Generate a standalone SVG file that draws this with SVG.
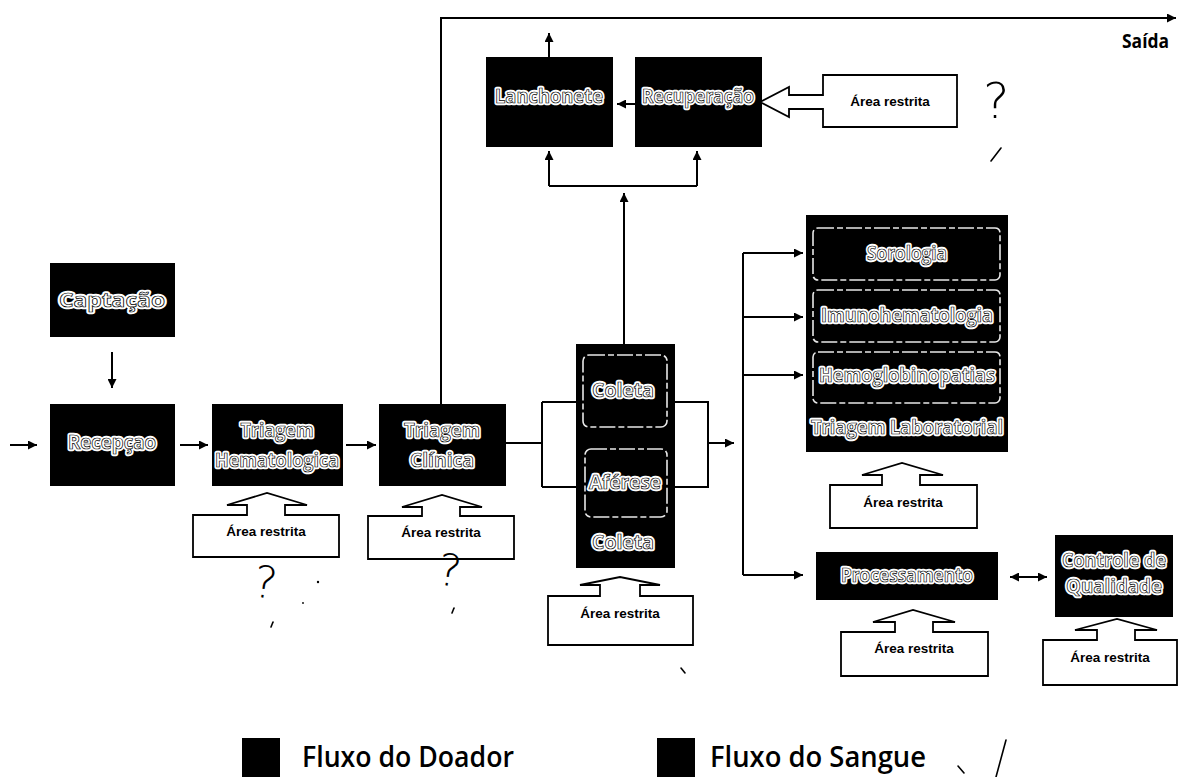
<svg xmlns="http://www.w3.org/2000/svg" width="1181" height="777" viewBox="0 0 1181 777">
  <defs>
    <marker id="ah" viewBox="0 0 10 10" refX="10" refY="5" markerUnits="userSpaceOnUse" markerWidth="9" markerHeight="9" orient="auto-start-reverse">
      <path d="M0,0 L10,5 L0,10 z" fill="#000"/>
    </marker>
  </defs>
  <style>
    .blk { fill: #000; }
    .sub { fill: none; stroke: #e8e8e8; stroke-width: 1.6; stroke-dasharray: 16 3 6 3; }
    .halo { font-family: "Open Sans", "Liberation Sans", sans-serif; font-weight: 700; font-size: 19px; fill: #fff; stroke: #fff; stroke-width: 4.5; stroke-linejoin: round; text-anchor: middle; dominant-baseline: central; }
    .ink { font-family: "Open Sans", "Liberation Sans", sans-serif; font-weight: 700; font-size: 19px; fill: #fff; stroke: #000; stroke-width: 0.7; text-anchor: middle; dominant-baseline: central; }
    .ar { fill: #fff; stroke: #000; stroke-width: 1.8; stroke-linejoin: miter; }
    .art { font-family: "Liberation Sans", Arial, sans-serif; font-weight: 700; font-size: 13.5px; fill: #000; text-anchor: middle; dominant-baseline: central; }
    .wire { fill: none; stroke: #000; stroke-width: 2; }
    .arr { fill: none; stroke: #000; stroke-width: 2; marker-end: url(#ah); }
    .hand { font-family: "DejaVu Sans", sans-serif; font-weight: 200; fill: #000; }
    .mark { fill: none; stroke: #000; stroke-width: 1.6; stroke-linecap: round; }
    .leg { font-family: "Open Sans", "Noto Sans", sans-serif; font-weight: 600; font-size: 28px; fill: #000; }
  </style>
  <rect width="1181" height="777" fill="#fff"/>

  <!-- connectors -->
  <g id="connectors">
    <!-- exit path -->
    <path class="arr" d="M441 404 V18 H1176"/>
    <path class="arr" d="M549 57 V33"/>
    <path class="arr" d="M635 104 H617"/>
    <path class="wire" d="M549 186 H697"/>
    <path class="arr" d="M549 186 V151"/>
    <path class="arr" d="M697 186 V151"/>
    <path class="arr" d="M624 344 V193"/>
    <!-- donor chain -->
    <path class="arr" d="M112 352 V388"/>
    <path class="arr" d="M10 445 H37"/>
    <path class="arr" d="M180 445 H208"/>
    <path class="arr" d="M346 445 H376"/>
    <!-- collection split / merge -->
    <path class="wire" d="M506 443 H542 M542 402 V487 M542 402 H576 M542 487 H576"/>
    <path class="wire" d="M675 402 H708 V487 H675"/>
    <path class="arr" d="M708 443 H734"/>
    <!-- laboratory distribution -->
    <path class="wire" d="M743 253 V575"/>
    <path class="arr" d="M743 253 H803"/>
    <path class="arr" d="M743 317 H803"/>
    <path class="arr" d="M743 375 H803"/>
    <path class="arr" d="M743 575 H803"/>
    <path class="arr" d="M1010 577 H1047" marker-start="url(#ah)"/>
  </g>

  <text x="1122" y="48" font-family="'Open Sans', 'Liberation Sans', sans-serif" font-weight="700" font-size="20" textLength="47" lengthAdjust="spacingAndGlyphs">Saída</text>

  <g id="lanchonete">
    <rect class="blk" x="486" y="57" width="127" height="90"/>
    <text class="halo" x="549" y="96" textLength="108" lengthAdjust="spacingAndGlyphs">Lanchonete</text>
    <text class="ink" x="549" y="96" textLength="108" lengthAdjust="spacingAndGlyphs">Lanchonete</text>
  </g>
  <g id="recuperacao">
    <rect class="blk" x="635" y="57" width="127" height="90"/>
    <text class="halo" x="698" y="96" textLength="112" lengthAdjust="spacingAndGlyphs">Recuperação</text>
    <text class="ink" x="698" y="96" textLength="112" lengthAdjust="spacingAndGlyphs">Recuperação</text>
  </g>
  <g id="restrita-recuperacao">
    <path class="ar" d="M823 75 H957 V127 H823 V109 H789 V117 L760 102 L789 87 V95 H823 Z"/>
    <text class="art" x="890" y="101">Área restrita</text>
  </g>

  <g id="captacao">
    <rect class="blk" x="50" y="263" width="125" height="74"/>
    <text class="halo" x="112" y="300" textLength="106" lengthAdjust="spacingAndGlyphs">Captação</text>
    <text class="ink" x="112" y="300" textLength="106" lengthAdjust="spacingAndGlyphs">Captação</text>
  </g>
  <g id="recepcao">
    <rect class="blk" x="50" y="404" width="125" height="82"/>
    <text class="halo" x="112" y="442" textLength="88" lengthAdjust="spacingAndGlyphs">Recepçao</text>
    <text class="ink" x="112" y="442" textLength="88" lengthAdjust="spacingAndGlyphs">Recepçao</text>
  </g>
  <g id="triagem-hematologica">
    <rect class="blk" x="212" y="404" width="131" height="82"/>
    <text class="halo" x="277" y="430" textLength="73" lengthAdjust="spacingAndGlyphs">Triagem</text>
    <text class="ink" x="277" y="430" textLength="73" lengthAdjust="spacingAndGlyphs">Triagem</text>
    <text class="halo" x="277" y="460" textLength="124" lengthAdjust="spacingAndGlyphs">Hematologica</text>
    <text class="ink" x="277" y="460" textLength="124" lengthAdjust="spacingAndGlyphs">Hematologica</text>
  </g>
  <g id="restrita-hematologica">
    <path class="ar" d="M193 515 H247 V505 H227 L267 493 L307 505 H285 V515 H339 V557 H193 Z"/>
    <text class="art" x="266" y="531">Área restrita</text>
  </g>
  <g id="triagem-clinica">
    <rect class="blk" x="379" y="404" width="127" height="82"/>
    <text class="halo" x="442" y="430" textLength="76" lengthAdjust="spacingAndGlyphs">Triagem</text>
    <text class="ink" x="442" y="430" textLength="76" lengthAdjust="spacingAndGlyphs">Triagem</text>
    <text class="halo" x="442" y="460" textLength="64" lengthAdjust="spacingAndGlyphs">Clínica</text>
    <text class="ink" x="442" y="460" textLength="64" lengthAdjust="spacingAndGlyphs">Clínica</text>
  </g>
  <g id="restrita-clinica">
    <path class="ar" d="M368 516 H422 V507 H402 L442 495 L482 507 H460 V516 H514 V559 H368 Z"/>
    <text class="art" x="441" y="532">Área restrita</text>
  </g>

  <g id="coleta">
    <rect class="blk" x="576" y="344" width="99" height="224"/>
    <rect class="sub" x="583" y="355" width="84" height="72" rx="6"/>
    <text class="halo" x="623" y="390" textLength="62" lengthAdjust="spacingAndGlyphs">Coleta</text>
    <text class="ink" x="623" y="390" textLength="62" lengthAdjust="spacingAndGlyphs">Coleta</text>
    <rect class="sub" x="585" y="449" width="82" height="68" rx="6"/>
    <text class="halo" x="625" y="482" textLength="72" lengthAdjust="spacingAndGlyphs">Aférese</text>
    <text class="ink" x="625" y="482" textLength="72" lengthAdjust="spacingAndGlyphs">Aférese</text>
    <text class="halo" x="623" y="542" textLength="62" lengthAdjust="spacingAndGlyphs">Coleta</text>
    <text class="ink" x="623" y="542" textLength="62" lengthAdjust="spacingAndGlyphs">Coleta</text>
  </g>
  <g id="restrita-coleta">
    <path class="ar" d="M548 596 H600 V585 H580 L620 577 L660 585 H640 V596 H693 V645 H548 Z"/>
    <text class="art" x="620" y="613">Área restrita</text>
  </g>

  <g id="triagem-laboratorial">
    <rect class="blk" x="806" y="215" width="202" height="237"/>
    <rect class="sub" x="813" y="228" width="187" height="52" rx="5"/>
    <text class="halo" x="907" y="253" textLength="80" lengthAdjust="spacingAndGlyphs">Sorologia</text>
    <text class="ink" x="907" y="253" textLength="80" lengthAdjust="spacingAndGlyphs">Sorologia</text>
    <rect class="sub" x="813" y="290" width="187" height="52" rx="5"/>
    <text class="halo" x="907" y="315" textLength="172" lengthAdjust="spacingAndGlyphs">Imunohematologia</text>
    <text class="ink" x="907" y="315" textLength="172" lengthAdjust="spacingAndGlyphs">Imunohematologia</text>
    <rect class="sub" x="813" y="352" width="187" height="51" rx="5"/>
    <text class="halo" x="907" y="375" textLength="176" lengthAdjust="spacingAndGlyphs">Hemoglobinopatias</text>
    <text class="ink" x="907" y="375" textLength="176" lengthAdjust="spacingAndGlyphs">Hemoglobinopatias</text>
    <text class="halo" x="907" y="427" textLength="192" lengthAdjust="spacingAndGlyphs">Triagem Laboratorial</text>
    <text class="ink" x="907" y="427" textLength="192" lengthAdjust="spacingAndGlyphs">Triagem Laboratorial</text>
  </g>
  <g id="restrita-laboratorial">
    <path class="ar" d="M830 485 H882 V475 H862 L902 463 L943 475 H920 V485 H977 V528 H830 Z"/>
    <text class="art" x="903" y="502">Área restrita</text>
  </g>

  <g id="processamento">
    <rect class="blk" x="816" y="552" width="182" height="48"/>
    <text class="halo" x="907" y="575" textLength="132" lengthAdjust="spacingAndGlyphs">Processamento</text>
    <text class="ink" x="907" y="575" textLength="132" lengthAdjust="spacingAndGlyphs">Processamento</text>
  </g>
  <g id="restrita-processamento">
    <path class="ar" d="M841 632 H895 V622 H873 L913 610 L955 622 H933 V632 H988 V676 H841 Z"/>
    <text class="art" x="914" y="648">Área restrita</text>
  </g>

  <g id="controle-qualidade">
    <rect class="blk" x="1055" y="535" width="118" height="82"/>
    <text class="halo" x="1114" y="560" textLength="104" lengthAdjust="spacingAndGlyphs">Controle de</text>
    <text class="ink" x="1114" y="560" textLength="104" lengthAdjust="spacingAndGlyphs">Controle de</text>
    <text class="halo" x="1114" y="586" textLength="96" lengthAdjust="spacingAndGlyphs">Qualidade</text>
    <text class="ink" x="1114" y="586" textLength="96" lengthAdjust="spacingAndGlyphs">Qualidade</text>
  </g>
  <g id="restrita-controle">
    <path class="ar" d="M1043 640 H1097 V630 H1075 L1117 619 L1157 630 H1135 V640 H1177 V685 H1043 Z"/>
    <text class="art" x="1110" y="657">Área restrita</text>
  </g>

  <!-- handwritten annotations -->
  <g id="annotations">
    <text class="hand" x="983" y="118" font-size="50">?</text>
    <text class="hand" x="254" y="598" font-size="44" transform="rotate(8 268 580)">?</text>
    <text class="hand" x="438" y="586" font-size="44" transform="rotate(8 452 570)">?</text>
    <path class="mark" d="M1001 148 L991 161"/>
    <circle cx="318" cy="582" r="1.2"/>
    <circle cx="303" cy="603" r="0.9"/>
    <path class="mark" d="M273 622 L271 627"/>
    <path class="mark" d="M454 608 L452 613"/>
    <path class="mark" d="M681 668 L685 673"/>
    <path class="mark" d="M1006 740 L996 777"/>
    <path class="mark" d="M958 766 L964 773"/>
  </g>

  <!-- legend -->
  <g id="legend">
    <rect class="blk" x="242" y="738" width="38" height="39"/>
    <text class="leg" x="302" y="767" textLength="212" lengthAdjust="spacingAndGlyphs">Fluxo do Doador</text>
    <rect class="blk" x="657" y="738" width="38" height="39"/>
    <text class="leg" x="710" y="767" textLength="216" lengthAdjust="spacingAndGlyphs">Fluxo do Sangue</text>
  </g>
</svg>
